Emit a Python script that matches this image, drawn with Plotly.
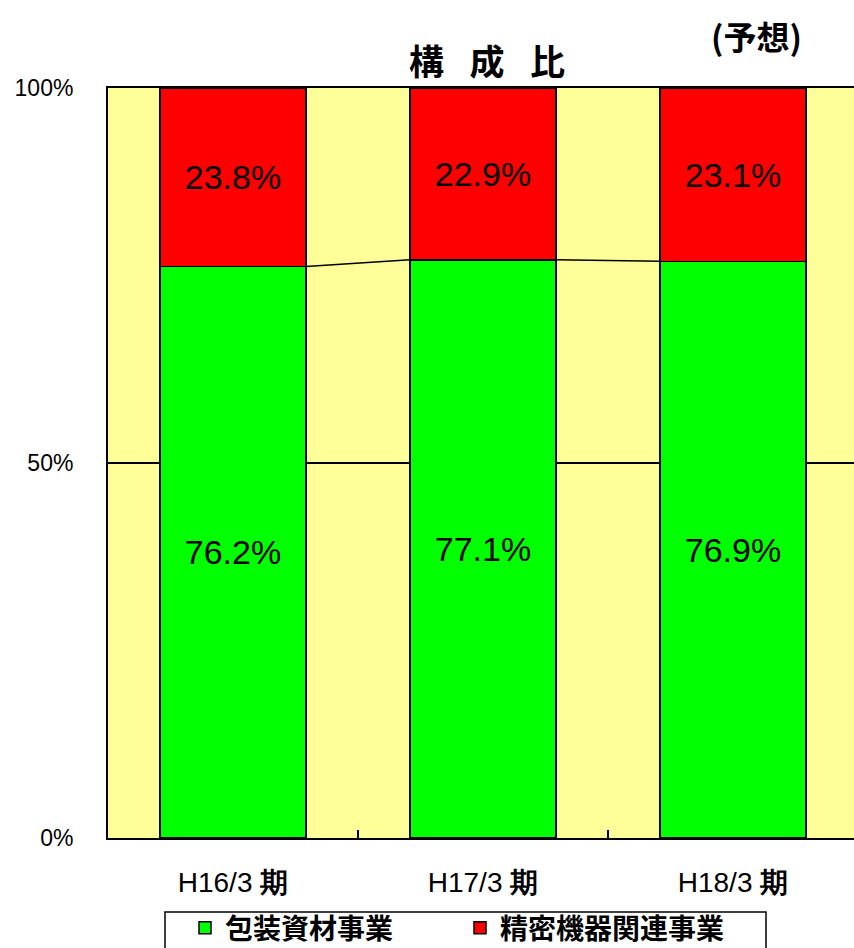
import plotly.graph_objects as go

categories = ["H16/3 <b>期</b>", "H17/3 <b>期</b>", "H18/3 <b>期</b>"]
packaging = [76.2, 77.1, 76.9]   # 包装資材事業
precision = [23.8, 22.9, 23.1]   # 精密機器関連事業
y_ticks = [0, 50, 100]
y_ticklabels = ["0%", "50%", "100%"]

xs = list(range(len(categories)))
bar_w = 0.584
num_font = "Liberation Sans Narrow, Liberation Sans, Arial"
cjk_font = "Noto Sans CJK JP, Liberation Sans"

def px_x(p):
    return (p - 108) / 746

def px_y(p):
    return (838 - p) / 750

fig = go.Figure()
fig.add_trace(go.Bar(
    x=xs, y=packaging, name="包装資材事業", width=bar_w,
    marker=dict(color="#00FF00", line=dict(color="black", width=1.5)),
    texttemplate="%{y:.1f}%", textposition="inside", insidetextanchor="middle",
    textfont=dict(family=num_font, size=34, color="black"),
))
fig.add_trace(go.Bar(
    x=xs, y=precision, name="精密機器関連事業", width=bar_w,
    marker=dict(color="#FF0000", line=dict(color="black", width=1.5)),
    texttemplate="%{y:.1f}%", textposition="inside", insidetextanchor="middle",
    textfont=dict(family=num_font, size=34, color="black"),
))

# series lines between bars (Excel style)
lx, ly = [], []
for i in range(len(xs) - 1):
    lx += [xs[i] + bar_w / 2, xs[i + 1] - bar_w / 2, None]
    ly += [packaging[i], packaging[i + 1], None]
fig.add_trace(go.Scatter(x=lx, y=ly, mode="lines", line=dict(color="black", width=1.5),
                         showlegend=False, hoverinfo="skip"))

fig.update_layout(
    width=854, height=948,
    margin=dict(l=108, r=0, t=88, b=110, autoexpand=False),
    barmode="stack",
    paper_bgcolor="white",
    plot_bgcolor="#FFFF99",
    font=dict(family=num_font, color="black"),
    showlegend=True,
    legend=dict(
        orientation="h", x=px_x(185), xanchor="left", y=px_y(903), yanchor="top",
        borderwidth=0, bgcolor="rgba(0,0,0,0)",
        font=dict(family=cjk_font, size=28, color="black", weight="bold"),
        traceorder="normal", entrywidth=230,
    ),
    shapes=[dict(type="rect", xref="paper", yref="paper",
                 x0=px_x(165), x1=px_x(766), y0=px_y(912), y1=px_y(1000),
                 line=dict(color="black", width=1.5), fillcolor="white", layer="below")],
    xaxis=dict(
        range=[-0.5, 2.484], tickmode="array", tickvals=xs, ticktext=categories,
        showline=True, linecolor="black", linewidth=2, mirror=True,
        ticks="", showgrid=False, zeroline=False,
        tickfont=dict(family=num_font, size=28, color="black"),
        minor=dict(tickmode="array", tickvals=[0.5, 1.5], ticks="inside",
                   ticklen=8, tickcolor="black", tickwidth=1.5, showgrid=False),
        ticklabelstandoff=18,
    ),
    yaxis=dict(
        range=[0, 100], tickmode="array", tickvals=y_ticks, ticktext=y_ticklabels,
        showline=True, linecolor="black", linewidth=2,
        showgrid=True, gridcolor="black", gridwidth=1.5, zeroline=False,
        ticks="", tickfont=dict(family=num_font, size=23, color="black"),
        ticklabelstandoff=28,
    ),
    annotations=[
        dict(text="<b>構\u2002\u00a0成\u2002\u00a0比</b>", xref="paper", yref="paper",
             x=px_x(487), y=px_y(60), xanchor="center", yanchor="middle",
             showarrow=False, font=dict(family=cjk_font, size=35, color="black")),
        dict(text="<b>(予想)</b>", xref="paper", yref="paper",
             x=px_x(756), y=px_y(36), xanchor="center", yanchor="middle",
             showarrow=False, font=dict(family=cjk_font, size=33, color="black")),
    ],
)

fig.write_html("out.html")
